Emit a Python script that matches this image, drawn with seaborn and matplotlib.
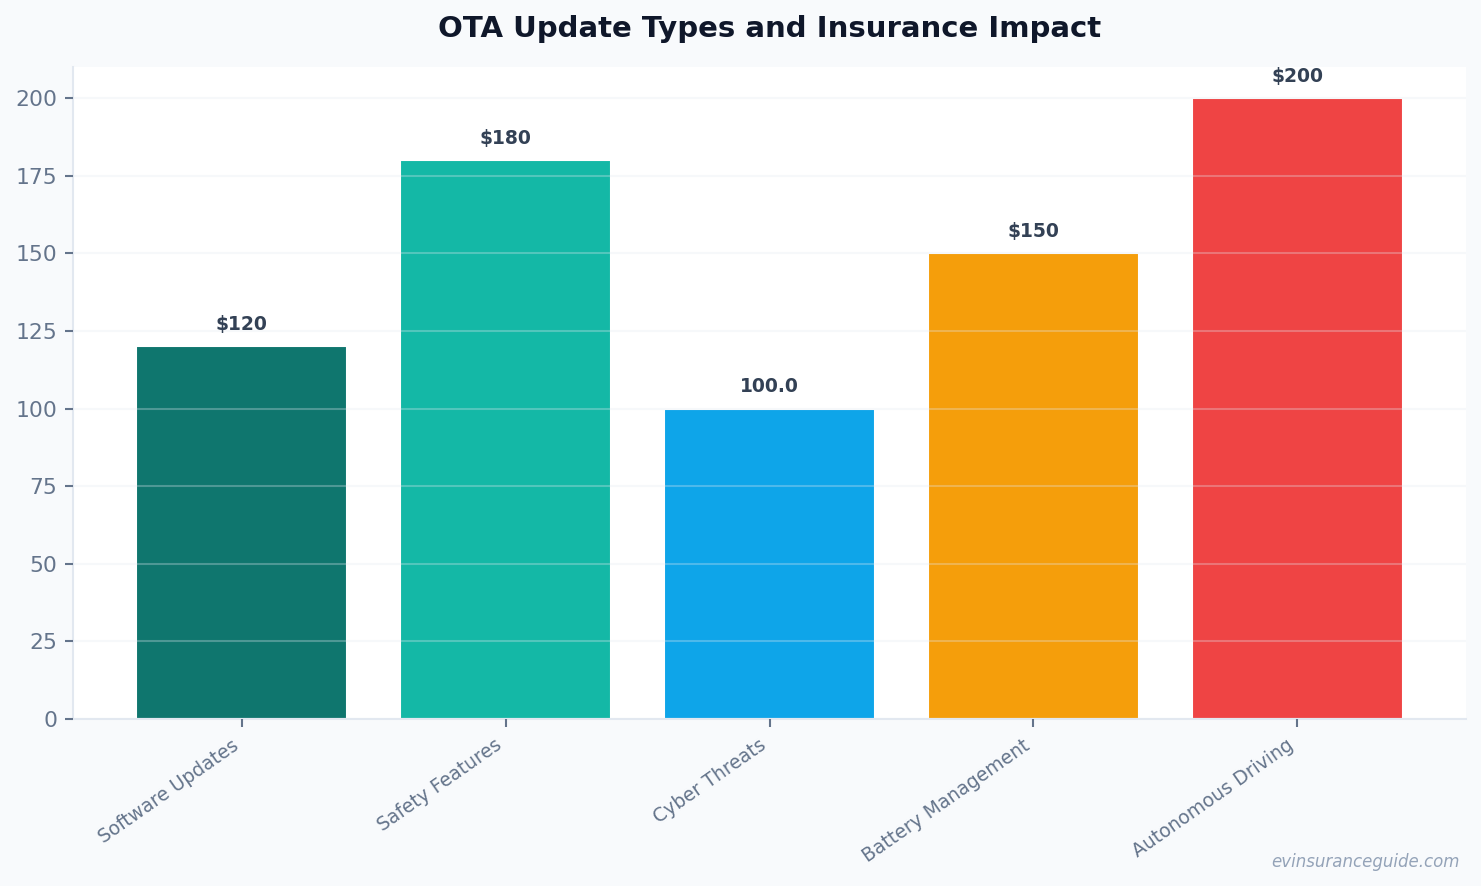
import matplotlib
matplotlib.use("Agg")
import matplotlib.pyplot as plt
import seaborn as sns
import pandas as pd

categories = ["Software Updates", "Safety Features", "Cyber Threats",
              "Battery Management", "Autonomous Driving"]
values = [120, 180, 100, 150, 200]
bar_labels = ["$120", "$180", "100.0", "$150", "$200"]
colors = ["#0f766e", "#14b8a6", "#0ea5e9", "#f59e0b", "#ef4444"]

sns.set_theme(style="white")
plt.rcParams['font.family'] = ['DejaVu Sans']

df = pd.DataFrame({"category": categories, "value": values})

fig = plt.figure(figsize=(14.81 / 1.5, 8.86 / 1.5), dpi=150)
fig.patch.set_facecolor("#f8fafc")
ax = fig.add_axes([73 / 1481, 1 - 719 / 886, (1466 - 73) / 1481, (719 - 67) / 886])
ax.set_facecolor("white")

sns.barplot(data=df, x="category", y="value", hue="category",
            palette=colors, legend=False, width=0.8, saturation=1, ax=ax)

ax.set_xlim(-0.64, 4.64)
ax.set_ylim(0, 210)
ax.set_xlabel("")
ax.set_ylabel("")

ax.set_axisbelow(False)
ax.yaxis.grid(True, color="#e2e8f0", alpha=0.3, linewidth=1)
ax.xaxis.grid(False)

for s in ["top", "right"]:
    ax.spines[s].set_visible(False)
for s in ["left", "bottom"]:
    ax.spines[s].set_color("#e2e8f0")
    ax.spines[s].set_linewidth(1)

ax.tick_params(axis="y", labelsize=10.5, colors="#64748b", length=4, width=1, left=True, pad=3.5)
ax.tick_params(axis="x", labelsize=9, colors="#64748b", length=4, width=1, bottom=True, pad=4)
plt.setp(ax.get_xticklabels(), rotation=35, ha="right")

for i, (v, lab) in enumerate(zip(values, bar_labels)):
    ax.annotate(lab, (i, v), xytext=(0, 6), textcoords="offset points",
                ha="center", va="bottom", fontsize=9, fontweight="bold",
                color="#334155")

ax.set_title("OTA Update Types and Insurance Impact", fontsize=14,
             fontweight="bold", color="#0f172a", pad=14.5)
fig.text(1460 / 1481, 1 - 862 / 886, "evinsuranceguide.com", ha="right", va="center",
         fontsize=8, style="italic", color="#94a3b8")

fig.savefig("out.png", dpi=150, facecolor=fig.get_facecolor())
